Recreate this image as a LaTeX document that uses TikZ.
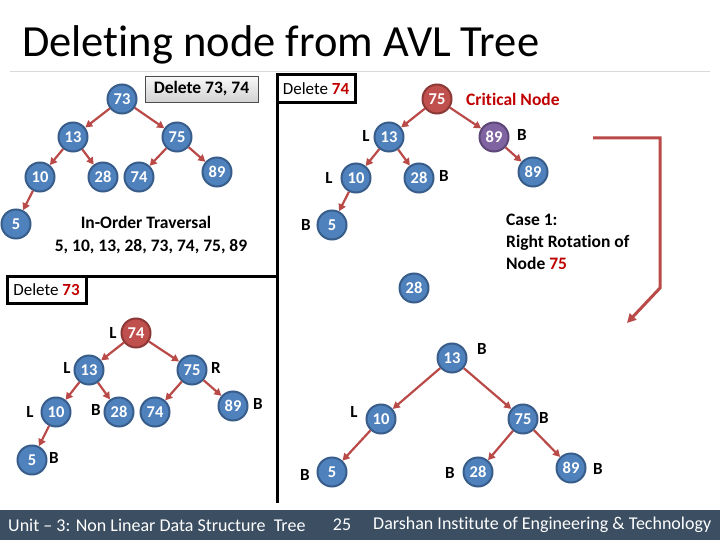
\documentclass[tikz,border=0pt]{standalone}
\usepackage{fontspec}
\setmainfont[Ligatures=NoCommon]{Carlito}
\usetikzlibrary{arrows.meta}
\definecolor{fillB}{RGB}{79,129,189}
\definecolor{drawB}{RGB}{56,93,138}
\definecolor{fillR}{RGB}{192,80,77}
\definecolor{drawR}{RGB}{140,56,54}
\definecolor{fillP}{RGB}{128,100,162}
\definecolor{drawP}{RGB}{92,71,118}
\definecolor{arrowc}{RGB}{185,74,72}
\definecolor{dred}{RGB}{192,0,0}
\definecolor{footc}{RGB}{59,78,98}
\definecolor{rulec}{RGB}{217,217,217}
\tikzset{
  bnode/.style={circle, draw=drawB, fill=fillB, line width=2pt, minimum size=29pt,
    inner sep=0pt, text=white, font=\bfseries\fontsize{16.5}{16}\selectfont},
  rnode/.style={bnode, draw=drawR, fill=fillR},
  pnode/.style={bnode, draw=drawP, fill=fillP},
  lbl/.style={inner sep=0pt, font=\bfseries\fontsize{17}{17}\selectfont},
  edg/.style={draw=arrowc, line width=2.2pt, -{Triangle[length=7pt,width=7.5pt]}},
  bigarrow/.style={draw=arrowc, line width=3pt, line join=miter, -{Triangle[length=9pt,width=9pt]}},
  blackbox/.style={draw=black, line width=3pt, outer sep=0pt, fill=white,
    font=\fontsize{17}{17}\selectfont, inner sep=0pt},
  btxt/.style={inner sep=0pt, font=\bfseries\fontsize{17.5}{17.5}\selectfont},
  foottxt/.style={inner sep=0pt, text=white, font=\fontsize{18}{18}\selectfont}
}
\begin{document}
\begin{tikzpicture}[x=1pt,y=-1pt]
\useasboundingbox (0,0) rectangle (720,540);
% title
\node[anchor=base west, inner sep=0pt, font=\fontsize{44.5}{44}\selectfont] (title) at (22,57) {Deleting node from AVL Tree};
\coordinate (r1) at (10,72);
\coordinate (r2) at (710,72);
\draw[rulec, line width=1pt] (r1) -- (r2);

% boxes and separators
\node[draw=gray!60!black, line width=0.8pt, top color=gray!5, bottom color=gray!35,
  minimum width=113pt, minimum height=26pt, inner sep=0pt,
  font=\bfseries\fontsize{17.5}{17}\selectfont] (del1) at (201.5,89) {Delete 73, 74};
\node[blackbox, anchor=north west, minimum width=78pt, minimum height=28pt] (del2) at (277,75)
  {Delete \textbf{\textcolor{dred}{74}}};
\coordinate (vb) at (277,503);
\draw[line width=3pt] (del2.south west) -- (vb);
\coordinate (hc) at (277,276);
\node[blackbox, anchor=north west, minimum width=79pt, minimum height=27pt] (del3) at (7,276)
  {Delete \textbf{\textcolor{dred}{73}}};
\draw[line width=3pt] (del3.north west) -- (hc);

% top-left tree
\node[bnode] (a73) at (122,99) {73};
\node[bnode] (a13) at (73,137) {13};
\node[bnode] (a75) at (177,137) {75};
\node[bnode] (a10) at (40,177) {10};
\node[bnode] (a28) at (103,177) {28};
\node[bnode] (a74) at (139,177) {74};
\node[bnode] (a89) at (217,172) {89};
\node[bnode] (a5) at (16,224) {5};
\draw[edg] (a73) -- (a13);
\draw[edg] (a73) -- (a75);
\draw[edg] (a13) -- (a10);
\draw[edg] (a13) -- (a28);
\draw[edg] (a75) -- (a74);
\draw[edg] (a75) -- (a89);
\draw[edg] (a10) -- (a5);
\node[btxt] (io1) at (146,222) {In-Order Traversal};
\node[btxt] (io2) at (151,247) {5, 10, 13, 28, 73, 74, 75, 89};

% top-right tree
\node[rnode] (b75) at (437,99) {75};
\node[btxt, anchor=west, text=dred] (crit) at (466,99) {Critical Node};
\node[bnode] (b13) at (389,137) {13};
\node[pnode] (b89) at (494,137) {89};
\node[bnode] (b10) at (356,178) {10};
\node[bnode] (b28) at (419,178) {28};
\node[bnode] (b5) at (332,225) {5};
\node[bnode] (b89x) at (533,172) {89};
\node[bnode] (b28x) at (414,288) {28};
\draw[edg] (b75) -- (b13);
\draw[edg] (b75) -- (b89);
\draw[edg] (b13) -- (b10);
\draw[edg] (b13) -- (b28);
\draw[edg] (b10) -- (b5);
\draw[edg] (b89) -- (b89x);
\node[lbl] (l1) at (366,136) {L};
\node[lbl] (l2) at (329,178) {L};
\node[lbl] (l3) at (444,176) {B};
\node[lbl] (l4) at (306,225) {B};
\node[lbl] (l5) at (522,135) {B};
\node[btxt, anchor=north west, align=left, font=\bfseries\fontsize{17.5}{22}\selectfont] (case) at (506,214)
  {Case 1:\\Right Rotation of\\Node \textcolor{dred}{75}};
\coordinate (e1) at (593,138);
\coordinate (e2) at (660,138);
\coordinate (e3) at (660,288);
\coordinate (e4) at (627,323);
\draw[bigarrow] (e1) -- (e2) -- (e3) -- (e4);

% bottom-left tree
\node[rnode] (c74) at (136,333) {74};
\node[bnode] (c13) at (89,370) {13};
\node[bnode] (c75) at (192,370) {75};
\node[bnode] (c10) at (56,412) {10};
\node[bnode] (c28) at (119,412) {28};
\node[bnode] (c74x) at (155,412) {74};
\node[bnode] (c89) at (233,406) {89};
\node[bnode] (c5) at (32,460) {5};
\draw[edg] (c74) -- (c13);
\draw[edg] (c74) -- (c75);
\draw[edg] (c13) -- (c10);
\draw[edg] (c13) -- (c28);
\draw[edg] (c75) -- (c74x);
\draw[edg] (c75) -- (c89);
\draw[edg] (c10) -- (c5);
\node[lbl] (l6) at (113,333) {L};
\node[lbl] (l7) at (67,368) {L};
\node[lbl] (l8) at (216,368) {R};
\node[lbl] (l9) at (30,412) {L};
\node[lbl] (l10) at (96,410) {B};
\node[lbl] (l11) at (258,404) {B};
\node[lbl] (l12) at (54,458) {B};

% bottom-right tree
\node[bnode] (d13) at (452,358) {13};
\node[bnode] (d10) at (381,419) {10};
\node[bnode] (d75) at (523,419) {75};
\node[bnode] (d5) at (332,472) {5};
\node[bnode] (d28) at (478,472) {28};
\node[bnode] (d89) at (571,468) {89};
\draw[edg] (d13) -- (d10);
\draw[edg] (d13) -- (d75);
\draw[edg] (d10) -- (d5);
\draw[edg] (d75) -- (d28);
\draw[edg] (d75) -- (d89);
\node[lbl] (l13) at (482,349) {B};
\node[lbl] (l14) at (354,412) {L};
\node[lbl] (l15) at (544,418) {B};
\node[lbl] (l16) at (305,475) {B};
\node[lbl] (l17) at (450,473) {B};
\node[lbl] (l18) at (598,469) {B};

% footer
\fill[footc] (0,510) rectangle (720,540);
\node[foottxt, anchor=west] (f1) at (8,525) {Unit – 3: Non Linear Data Structure\ \ Tree};
\node[foottxt] (f2) at (342,525) {25};
\node[foottxt, anchor=west] (f3) at (373,525) {Darshan Institute of Engineering \& Technology};
\end{tikzpicture}
\end{document}
